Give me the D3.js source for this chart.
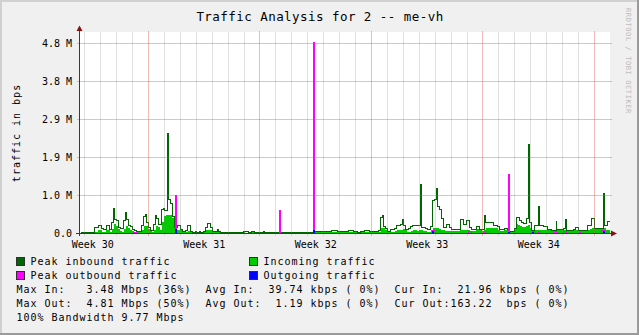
<!DOCTYPE html>
<html><head><meta charset="utf-8">
<script src="https://cdn.jsdelivr.net/npm/d3@7/dist/d3.min.js"></script>
<style>
html,body{margin:0;padding:0;background:#f0f0f0;overflow:hidden;}
svg{display:block;}
text{font-family:"DejaVu Sans Mono",monospace;fill:#000;white-space:pre;}
</style></head><body>
<svg id="chart" width="639" height="335"></svg>
<script>
// ---------------- DATA ----------------
const chartTitle = "Traffic Analysis for 2 -- me-vh";
const yAxisTitle = "traffic in bps";
const watermark = "RRDTOOL / TOBI OETIKER";

const weekLabels = ["Week 30", "Week 31", "Week 32", "Week 33", "Week 34"];
const weekLabelHours = [-84, 84, 252, 420, 588];      // mid-week (hours from start of week 31)
const weekLineHours = [0, 168, 336, 504, 672];        // week boundaries
const dayLineHours = [-96,-72,-48,-24,24,48,72,96,120,144,192,216,240,264,288,312,360,384,408,432,456,480,528,552,576,600,624,648];

const yTickValues = [0, 1, 2, 3, 4, 5];               // millions of bps
const yTickLabels = ["0.0", "1.0 M", "1.9 M", "2.9 M", "3.8 M", "4.8 M"];

const startHour = -103;   // first sample (hours from start of week 31)
const stepHours = 3;      // sample spacing

// Peak inbound traffic (M bps)
const peakIn = [
0.03,0.03,0.02,0.03,0.03,0.02,0.03,0.15,0.15,0.22,
0.22,0.12,0.10,0.22,0.20,0.10,0.30,0.66,0.38,0.35,
0.15,0.12,0.35,0.55,0.38,0.22,0.18,0.10,0.08,0.05,
0.06,0.20,0.45,0.49,0.30,0.15,0.08,0.25,0.47,0.40,
0.25,0.62,0.65,0.60,2.62,0.90,0.78,0.45,0.15,0.22,
0.22,0.10,0.06,0.08,0.22,0.22,0.04,0.03,0.04,0.03,
0.04,0.03,0.06,0.15,0.26,0.26,0.15,0.06,0.06,0.11,
0.04,0.03,0.02,0.03,0.03,0.02,0.03,0.02,0.02,0.03,
0.03,0.03,0.04,0.05,0.04,0.03,0.05,0.05,0.03,0.03,
0.02,0.03,0.05,0.03,0.02,0.03,0.03,0.02,0.03,0.02,
0.02,0.03,0.02,0.03,0.03,0.02,0.03,0.03,0.02,0.03,
0.03,0.02,0.03,0.03,0.02,0.03,0.03,0.04,0.04,0.04,
0.04,0.04,0.04,0.04,0.04,0.04,0.09,0.10,0.09,0.08,
0.06,0.05,0.04,0.05,0.04,0.09,0.09,0.07,0.04,0.04,
0.03,0.04,0.05,0.09,0.09,0.08,0.05,0.04,0.05,0.06,
0.08,0.43,0.47,0.18,0.14,0.06,0.10,0.10,0.14,0.20,
0.22,0.24,0.37,0.20,0.11,0.12,0.19,0.22,0.22,0.22,
0.22,1.30,0.16,0.16,0.12,0.11,0.19,0.88,0.90,1.19,
0.72,0.63,0.39,0.16,0.25,0.25,0.16,0.11,0.11,0.10,
0.11,0.37,0.37,0.24,0.33,0.33,0.16,0.11,0.11,0.19,
0.19,0.11,0.11,0.47,0.28,0.28,0.28,0.28,0.22,0.22,
0.19,0.11,0.11,0.13,0.13,0.10,0.05,0.05,0.13,0.43,
0.42,0.35,0.30,0.26,0.39,2.33,0.30,0.07,0.20,0.20,
0.70,0.20,0.20,0.18,0.18,0.11,0.11,0.07,0.07,0.33,
0.11,0.11,0.11,0.12,0.37,0.07,0.07,0.07,0.11,0.15,
0.15,0.07,0.07,0.07,0.07,0.20,0.20,0.39,0.39,0.12,
0.12,0.12,0.12,1.04,0.22,0.31];

// Incoming traffic (average, M bps)
const avgIn = [
0.02,0.02,0.02,0.02,0.02,0.02,0.02,0.05,0.05,0.08,
0.08,0.04,0.04,0.08,0.08,0.04,0.12,0.25,0.20,0.12,
0.06,0.05,0.12,0.20,0.15,0.08,0.06,0.04,0.03,0.03,
0.04,0.10,0.20,0.20,0.12,0.06,0.04,0.10,0.20,0.18,
0.10,0.30,0.45,0.48,0.50,0.48,0.40,0.20,0.08,0.10,
0.08,0.04,0.03,0.04,0.06,0.06,0.02,0.02,0.02,0.02,
0.02,0.02,0.04,0.08,0.10,0.10,0.06,0.03,0.03,0.04,
0.02,0.02,0.02,0.02,0.02,0.02,0.02,0.02,0.02,0.02,
0.03,0.03,0.03,0.02,0.02,0.02,0.03,0.03,0.02,0.02,
0.02,0.02,0.03,0.02,0.02,0.02,0.02,0.02,0.02,0.02,
0.02,0.02,0.02,0.02,0.02,0.02,0.02,0.02,0.02,0.02,
0.02,0.02,0.02,0.02,0.02,0.02,0.02,0.04,0.03,0.03,
0.03,0.03,0.03,0.03,0.03,0.03,0.05,0.05,0.05,0.04,
0.03,0.03,0.03,0.03,0.03,0.05,0.05,0.04,0.03,0.03,
0.03,0.03,0.03,0.05,0.05,0.05,0.03,0.03,0.03,0.03,
0.05,0.15,0.15,0.08,0.06,0.04,0.05,0.05,0.06,0.08,
0.08,0.10,0.12,0.08,0.05,0.05,0.07,0.08,0.08,0.07,
0.08,0.10,0.06,0.06,0.05,0.05,0.10,0.14,0.15,0.14,
0.12,0.10,0.08,0.06,0.06,0.06,0.06,0.06,0.06,0.06,
0.06,0.10,0.10,0.10,0.10,0.10,0.06,0.06,0.06,0.12,
0.12,0.12,0.06,0.10,0.14,0.14,0.14,0.14,0.14,0.14,
0.10,0.06,0.06,0.08,0.08,0.08,0.05,0.06,0.15,0.26,
0.22,0.20,0.18,0.17,0.20,0.22,0.15,0.08,0.08,0.08,
0.10,0.08,0.08,0.08,0.08,0.08,0.08,0.08,0.08,0.12,
0.08,0.08,0.08,0.08,0.10,0.06,0.06,0.06,0.08,0.10,
0.10,0.06,0.06,0.06,0.06,0.10,0.12,0.14,0.14,0.12,
0.12,0.12,0.12,0.14,0.10,0.08];

// Peak outbound traffic (M bps)
const peakOut = [
0,0,0,0,0,0,0,0,0,0,
0,0,0,0,0,0,0,0,0,0,
0,0,0,0,0,0,0,0.02,0.02,0,
0,0,0,0,0,0,0,0,0,0,
0,0,0,0,0,0,0,0,0.99,0,
0,0,0,0,0,0,0,0,0,0,
0,0,0,0,0,0,0,0,0,0,
0,0,0,0,0,0,0,0,0,0,
0,0,0,0,0,0,0,0,0,0,
0,0,0,0,0,0,0,0,0,0,
0.60,0,0,0,0,0,0,0,0,0,
0,0,0,0,0,0,0,5.03,0,0,
0,0,0,0,0,0,0,0,0,0,
0,0,0,0,0,0,0,0,0,0,
0,0,0,0,0,0,0,0,0,0,
0,0,0,0,0,0,0,0,0,0,
0,0,0,0,0,0,0,0,0,0,
0,0,0,0,0,0,0,0.07,0.07,0,
0,0,0,0,0,0,0,0,0,0,
0,0,0,0,0,0.05,0.05,0,0,0,
0,0,0,0.06,0,0,0,0,0,0,
0,0,0,0,0,1.55,0,0,0,0,
0,0,0,0,0,0,0,0.06,0.06,0,
0.05,0,0,0,0,0,0,0,0.05,0.05,
0,0,0,0.06,0.06,0,0,0,0,0,
0,0.03,0,0,0,0,0,0,0,0,
0,0,0.07,0.07,0,0];

// Outgoing traffic (average, M bps)
const avgOut = [
0,0,0,0,0,0,0,0,0,0,
0,0,0,0,0,0,0,0,0,0,
0,0,0,0,0,0,0,0,0,0,
0,0,0,0,0,0,0,0,0,0,
0,0,0,0,0,0,0,0,0.10,0,
0,0,0,0,0,0,0,0,0,0,
0,0,0,0,0,0,0,0,0,0,
0,0,0,0,0,0,0,0,0,0,
0,0,0,0,0,0,0,0,0,0,
0,0,0,0,0,0,0,0,0,0,
0,0,0,0,0,0,0,0,0,0,
0,0,0,0,0,0,0,0.08,0,0,
0,0,0,0,0,0,0,0,0,0,
0,0,0,0,0,0,0,0,0,0,
0,0,0,0,0,0,0,0,0,0,
0,0,0,0,0,0,0,0,0,0,
0,0,0,0,0,0,0,0,0,0,
0,0,0,0,0,0,0,0.05,0,0,
0,0,0,0,0,0,0,0,0,0,
0,0,0,0,0,0,0,0,0,0,
0,0,0,0,0,0,0,0,0,0,
0,0,0,0,0,0.03,0,0,0,0,
0,0,0,0,0,0,0,0.02,0,0,
0,0,0,0,0,0,0,0,0,0,
0,0,0,0,0,0,0,0,0,0,
0,0,0,0,0,0,0,0,0,0,
0,0,0,0.05,0,0];

const legendNames = ["Peak inbound traffic", "Incoming traffic", "Peak outbound traffic", "Outgoing traffic"];
const legendColors = ["#006600", "#00cc00", "#ff00ff", "#0000ff"];
const statLines = [
  "Max In:   3.48 Mbps (36%)  Avg In:  39.74 kbps ( 0%)  Cur In:  21.96 kbps ( 0%)",
  "Max Out:  4.81 Mbps (50%)  Avg Out:  1.19 kbps ( 0%)  Cur Out:163.22  bps ( 0%)",
  "100% Bandwidth 9.77 Mbps"
];

// ---------------- DRAW ----------------
const W = 639, H = 335;
const svg = d3.select("#chart");
const L = 80, R = 610, T = 32, B = 233;

const x = d3.scaleLinear().domain([-103.21, 695.36]).range([L, R]);
const y = d3.scaleLinear().domain([0, 5.3]).range([233.5, 32.1]);
const px = v => Math.floor(v) + 0.5;

// background + 3D border
svg.append("rect").attr("width", W).attr("height", H).attr("fill", "#f0f0f0");
svg.append("rect").attr("x",0).attr("y",0).attr("width",W).attr("height",2).attr("fill","#d0d0d0");
svg.append("rect").attr("x",0).attr("y",0).attr("width",2).attr("height",H).attr("fill","#d0d0d0");
svg.append("rect").attr("x",0).attr("y",H-2).attr("width",W).attr("height",2).attr("fill","#9a9a9a");
svg.append("rect").attr("x",W-2).attr("y",0).attr("width",2).attr("height",H).attr("fill","#9a9a9a");

// canvas
svg.append("rect").attr("x", L).attr("y", T).attr("width", R - L).attr("height", B - T).attr("fill", "#ffffff");

const toPts = arr => {
  const pts = arr.map((v, i) => ({ t: startHour + i * stepHours, v }));
  pts.push({ t: startHour + arr.length * stepHours, v: arr[arr.length - 1] });
  return pts;
};

// rrdtool-like pixel step line: a falling edge is drawn one pixel earlier,
// so one-sample spikes render as solid 2px bars
const stepLinePts = arr => {
  const pts = [];
  let xs = px(x(startHour));
  arr.forEach((v, i) => {
    const xe = px(x(startHour + (i + 1) * stepHours));
    const next = arr[i + 1];
    const xb = (next !== undefined && next < v) ? xe - 1 : xe;
    pts.push([xs, v], [xb, v]);
    xs = xb;
  });
  return pts;
};

svg.append("clipPath").attr("id", "clip").append("rect")
  .attr("x", L).attr("y", 20).attr("width", R - L).attr("height", B - 20 + 1);
const g = svg.append("g").attr("clip-path", "url(#clip)");

const area = d3.area().curve(d3.curveStepAfter)
  .x(d => Math.round(x(d.t))).y0(y(0)).y1(d => y(d.v));
const line = d3.line().x(d => d[0]).y(d => px(y(d[1])));

g.append("path").datum(toPts(avgIn)).attr("d", area)
  .attr("fill", legendColors[1]).attr("shape-rendering", "crispEdges");
[[peakIn, 0], [peakOut, 2], [avgOut, 3]].forEach(([arr, ci]) => {
  g.append("path").datum(stepLinePts(arr)).attr("d", line)
    .attr("fill", "none").attr("stroke", legendColors[ci]).attr("stroke-width", 1)
    .attr("shape-rendering", "crispEdges");
});

// grid (drawn over data, semi-transparent as rrdtool does)
const grid = svg.append("g").attr("shape-rendering", "crispEdges");
grid.selectAll("line.day").data(dayLineHours).join("line")
  .attr("x1", d => px(x(d))).attr("x2", d => px(x(d)))
  .attr("y1", T).attr("y2", B + 3)
  .attr("stroke", "rgba(130,130,130,0.25)");
grid.selectAll("line.week").data(weekLineHours).join("line")
  .attr("x1", d => px(x(d))).attr("x2", d => px(x(d)))
  .attr("y1", T - 1).attr("y2", B + 3)
  .attr("stroke", "rgba(222,80,80,0.4)");
grid.selectAll("line.h").data(yTickValues.slice(1)).join("line")
  .attr("x1", L - 3).attr("x2", R + 2)
  .attr("y1", d => px(y(d))).attr("y2", d => px(y(d)))
  .attr("stroke", "rgba(222,80,80,0.4)");

// axes
svg.append("line").attr("x1", 79.5).attr("x2", 79.5).attr("y1", 236).attr("y2", 29)
  .attr("stroke", "#3a3a3a").attr("shape-rendering", "crispEdges");
svg.append("line").attr("x1", 76).attr("x2", 612).attr("y1", 233.5).attr("y2", 233.5)
  .attr("stroke", "#3a3a3a").attr("shape-rendering", "crispEdges");
svg.append("path").attr("d", "M76.5,31 L82.5,31 L79.5,25.5 Z").attr("fill", "#8b1010");
svg.append("path").attr("d", "M611,230.5 L611,236.5 L617,233.5 Z").attr("fill", "#8b1010");

// y tick labels
svg.selectAll("text.ytick").data(yTickValues).join("text")
  .attr("x", 72).attr("y", d => y(d) + 3.5)
  .attr("text-anchor", "end").attr("font-size", "10px")
  .text((d, i) => yTickLabels[i]);

// x labels
svg.selectAll("text.xtick").data(weekLabelHours).join("text")
  .attr("x", d => x(d)).attr("y", 248)
  .attr("text-anchor", "middle").attr("font-size", "10px")
  .text((d, i) => weekLabels[i]);

// title
svg.append("text").attr("x", 320).attr("y", 21).attr("text-anchor", "middle")
  .attr("font-size", "12.5px").attr("letter-spacing", "0.45px").text(chartTitle);

// y axis title
svg.append("text").attr("transform", "translate(20,133) rotate(-90)")
  .attr("text-anchor", "middle").attr("font-size", "10px").attr("letter-spacing", "1px")
  .text(yAxisTitle);

// watermark
svg.append("text").attr("transform", "translate(626,8) rotate(90)")
  .attr("font-size", "7px").attr("letter-spacing", "0.6px")
  .style("fill", "#bcbcbc").text(watermark);

// legend
const legendPos = [[16.5, 257.5], [249.5, 257.5], [16.5, 271.5], [249.5, 271.5]];
legendNames.forEach((name, i) => {
  const [lx, ly] = legendPos[i];
  svg.append("rect").attr("x", lx).attr("y", ly).attr("width", 8).attr("height", 8)
    .attr("fill", legendColors[i]).attr("stroke", "#303030").attr("stroke-width", 1);
  svg.append("text").attr("x", lx + 14).attr("y", ly + 7.5)
    .attr("font-size", "10px").attr("letter-spacing", "0.98px").text(name);
});
statLines.forEach((s, i) => {
  svg.append("text").attr("x", 16.5).attr("y", 293 + i * 14)
    .attr("font-size", "10px").attr("letter-spacing", "0.98px")
    .attr("xml:space", "preserve").text(s);
});
</script>
</body></html>
